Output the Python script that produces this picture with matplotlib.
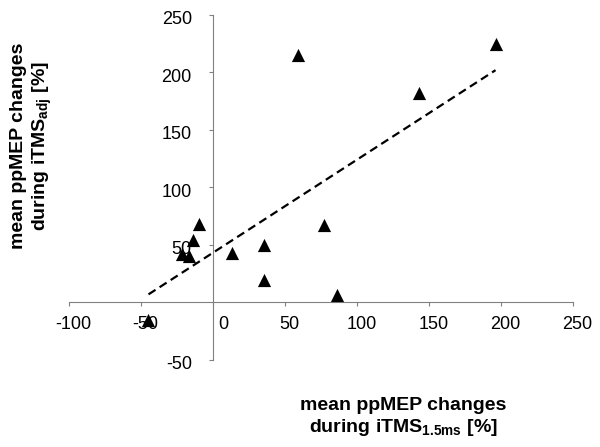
import matplotlib
matplotlib.use("Agg")
import matplotlib.pyplot as plt
import matplotlib.transforms as mtransforms
import numpy as np

plt.rcParams['font.family'] = ['Liberation Sans', 'DejaVu Sans']
plt.rcParams['mathtext.fontset'] = 'custom'
plt.rcParams['mathtext.rm'] = 'Liberation Sans'
plt.rcParams['mathtext.bf'] = 'Liberation Sans:bold'
plt.rcParams['lines.scale_dashes'] = False
plt.rcParams['axes.unicode_minus'] = False

# mean ppMEP changes per subject
itms_15ms = [59, 77, 35, 35, 86, 13, -10, -14, -22, -17, -45, 196, 143]
itms_adj = [215, 67.5, 50, 19, 6, 43, 68, 54, 42, 40.5, -16, 224.5, 182]
x_ticks = [-100, -50, 0, 50, 100, 150, 200, 250]
y_ticks = [-50, 50, 100, 150, 200, 250]

x = np.array(itms_15ms, dtype=float)
y = np.array(itms_adj, dtype=float)

W, H = 600, 447
fig = plt.figure(figsize=(W / 100, H / 100), dpi=100)
ax = fig.add_axes([69.3 / W, (H - 359.5) / H, 504 / W, 344.5 / H])

ax.scatter(x, y, marker='^', s=9.5 ** 2, color='black', zorder=3, linewidths=0)

# linear trend line over the data range
slope, intercept = np.polyfit(x, y, 1)
xs = np.array([x.min(), x.max()])
ax.plot(xs, slope * xs + intercept, color='black', lw=1.6, dashes=(6, 3.5), zorder=2)

ax.set_xlim(-100, 250)
ax.set_ylim(-50, 250)

# axes crossing at the origin
for side in ['top', 'right']:
    ax.spines[side].set_visible(False)
ax.spines['left'].set_position(('data', 0))
ax.spines['bottom'].set_position(('data', 0))
for side in ['left', 'bottom']:
    ax.spines[side].set_color('#808080')
    ax.spines[side].set_linewidth(0.8)

ax.set_xticks(x_ticks)
ax.set_yticks(y_ticks)
ax.tick_params(axis='both', direction='out', length=3, width=0.8, color='#808080',
               labelsize=13)
ax.tick_params(axis='x', pad=7)
ax.tick_params(axis='y', pad=12.5)

# small label offsets like the original
for lbl, v in zip(ax.get_xticklabels(), x_ticks):
    dx = 10 if v == 0 else 4
    lbl.set_transform(lbl.get_transform() + mtransforms.ScaledTranslation(dx / 100, 0, fig.dpi_scale_trans))
for lbl in ax.get_yticklabels():
    lbl.set_transform(lbl.get_transform() + mtransforms.ScaledTranslation(0, -3 / 100, fig.dpi_scale_trans))

fig.text(32 / W, 1 - 146 / H, "mean ppMEP changes\nduring iTMS$_{\\mathbf{adj}}$ [%]",
         rotation=90, ha='center', va='center', multialignment='center',
         fontsize=14, fontweight='bold')
fig.text(403 / W, 1 - 418 / H, "mean ppMEP changes\nduring iTMS$_{\\mathbf{1.5ms}}$ [%]",
         ha='center', va='center', multialignment='center',
         fontsize=14, fontweight='bold')

fig.savefig("out.png", dpi=100)
